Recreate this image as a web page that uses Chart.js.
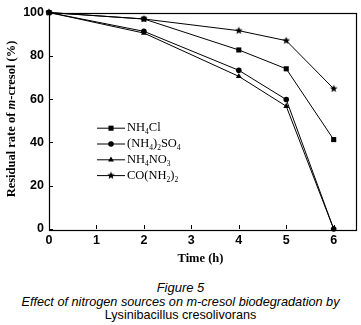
<!DOCTYPE html>
<html><head><meta charset="utf-8">
<script src="https://cdn.jsdelivr.net/npm/chart.js@4/dist/chart.umd.min.js"></script>
<style>
html,body{margin:0;padding:0;background:#fff;width:361px;height:325px;overflow:hidden}
#wrap{position:absolute;left:0;top:0;width:361px;height:268px}
.cap{position:absolute;left:0;width:361px;text-align:center;font-family:"Liberation Sans",Arial,sans-serif;font-size:12.6px;color:#000;line-height:14px}
</style></head>
<body>
<div id="wrap"><canvas id="c" width="361" height="268"></canvas></div>
<div class="cap" style="top:281px;font-style:italic;font-size:13px">Figure 5</div>
<div class="cap" style="top:295px;font-style:italic;font-size:12.7px">Effect of nitrogen sources on m-cresol biodegradation by</div>
<div class="cap" style="top:308px">Lysinibacillus cresolivorans</div>
<script>
const times = [0, 2, 4, 5, 6];
const nh4cl = [100, 97, 82.7, 74, 41.3];
const nh42so4 = [100, 91.3, 73.3, 59.8, 0];
const nh4no3 = [100, 90.5, 70.5, 56.7, 0];
const urea = [100, 97, 91.6, 87, 64.8];
const seriesLabels = ['NH₄Cl', '(NH₄)₂SO₄', 'NH₄NO₃', 'CO(NH₂)₂'];
const xTicks = [0, 1, 2, 3, 4, 5, 6];
const yTicks = [0, 20, 40, 60, 80, 100];

function starImg(r){
  const c = document.createElement('canvas');
  const s = Math.ceil(r*2+2); c.width = s; c.height = s;
  const g = c.getContext('2d'); g.fillStyle = '#000';
  g.beginPath();
  for (let i=0;i<10;i++){
    const rr = i%2===0 ? r : r*0.45;
    const a = -Math.PI/2 + i*Math.PI/5;
    const x = s/2 + rr*Math.cos(a), y = s/2 + rr*Math.sin(a);
    i===0 ? g.moveTo(x,y) : g.lineTo(x,y);
  }
  g.closePath(); g.fill();
  return c;
}
const star = starImg(4);
const styles = ['rect','circle','triangle',star];
const radii = [3.6,2.8,3.4,4];
const vals = [nh4cl, nh42so4, nh4no3, urea];

const datasets = vals.map((v,i)=>({
  label: seriesLabels[i],
  data: times.map((t,j)=>({x:t,y:v[j]})),
  borderColor:'#000', backgroundColor:'#000', borderWidth:1,
  pointStyle: styles[i], pointRadius: radii[i], pointHoverRadius: radii[i],
  pointBorderWidth: 0, tension:0, clip:false
}));

function drawRich(ctx, text, x, y, size, family, weight){
  const subs = '₀₁₂₃₄₅₆₇₈₉';
  let cx = x;
  for (const ch of text){
    const k = subs.indexOf(ch);
    if (k>=0){
      ctx.font = `${weight} ${size*0.6}px ${family}`;
      ctx.fillText(String(k), cx, y+size*0.32);
      cx += ctx.measureText(String(k)).width;
    } else {
      ctx.font = `${weight} ${size}px ${family}`;
      ctx.fillText(ch, cx, y);
      cx += ctx.measureText(ch).width;
    }
  }
}

const deco = {
  id:'deco',
  afterDraw(chart){
    const ctx = chart.ctx, a = chart.chartArea, xs = chart.scales.x, ys = chart.scales.y;
    ctx.save();
    ctx.strokeStyle='#000'; ctx.lineWidth=1.2;
    ctx.strokeRect(Math.round(a.left)+0.5, Math.round(a.top)+0.5, Math.round(a.right-a.left), Math.round(a.bottom-a.top));
    ctx.lineWidth=1;
    ctx.beginPath();
    xTicks.forEach(t=>{const px=Math.round(xs.getPixelForValue(t))+0.5; ctx.moveTo(px,a.bottom); ctx.lineTo(px,a.bottom-4);});
    yTicks.forEach(t=>{const py=Math.round(ys.getPixelForValue(t))+0.5; ctx.moveTo(a.left,py); ctx.lineTo(a.left+4,py);});
    ctx.stroke();
    // legend
    ctx.fillStyle='#000'; ctx.textBaseline='middle'; ctx.textAlign='left';
    const lx0=97, lx1=125, ly0=127.7, dy=15.8;
    chart.data.datasets.forEach((d,i)=>{
      const y = ly0 + i*dy;
      ctx.beginPath(); ctx.moveTo(lx0,y+0.5); ctx.lineTo(lx1,y+0.5); ctx.stroke();
      const mx=111;
      Chart.helpers.drawPoint(ctx,{pointStyle:d.pointStyle, radius:d.pointRadius, borderWidth:0, rotation:0}, mx, y+0.5);
      drawRich(ctx, d.label, 127, y+0.5, 12.5, '"Liberation Serif", "Times New Roman", serif', 'normal');
    });
    // axis titles
    ctx.textBaseline='middle';
    const fam='"Liberation Serif","Times New Roman",serif';
    ctx.font=`bold 12.5px ${fam}`;
    ctx.textAlign='center';
    ctx.fillText('Time (h)', (a.left+a.right)/2 - 2, 259);
    ctx.translate(12, 119);
    ctx.rotate(-Math.PI/2);
    const parts=[['Residual rate of ','bold'],['m','bold italic'],['-cresol (%)','bold']];
    let w=0; parts.forEach(p=>{ctx.font=`${p[1]} 12.5px ${fam}`; w+=ctx.measureText(p[0]).width;});
    let x=-w/2; ctx.textAlign='left';
    parts.forEach(p=>{ctx.font=`${p[1]} 12.5px ${fam}`; ctx.fillText(p[0],x,0); x+=ctx.measureText(p[0]).width;});
    ctx.restore();
  }
};

new Chart(document.getElementById('c'),{
  type:'line',
  data:{datasets},
  options:{
    responsive:false, animation:false, events:[],
    layout:{padding:{top:11,right:5,left:0,bottom:0}},
    plugins:{legend:{display:false},tooltip:{enabled:false}},
    scales:{
      x:{type:'linear',min:0,max:6.47,
        afterBuildTicks:s=>{s.ticks=xTicks.map(v=>({value:v}));},
        afterFit:s=>{s.height=39;},
        grid:{display:false,drawTicks:false},border:{display:false},
        ticks:{color:'#000',padding:4,font:{family:'"Liberation Sans",Arial,sans-serif',weight:'bold',size:12.5},maxRotation:0}},
      y:{type:'linear',min:0,max:100,
        afterBuildTicks:s=>{s.ticks=yTicks.map(v=>({value:v}));},
        afterFit:s=>{s.width=49;},
        grid:{display:false,drawTicks:false},border:{display:false},
        ticks:{color:'#000',padding:5,font:{family:'"Liberation Sans",Arial,sans-serif',weight:'bold',size:12.5}}}
    }
  },
  plugins:[deco]
});
</script>
</body></html>
